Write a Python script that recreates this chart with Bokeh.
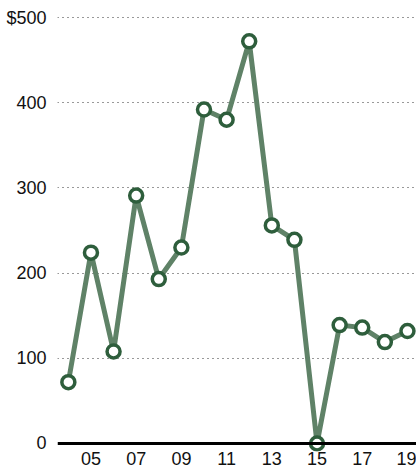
from bokeh.plotting import figure
from bokeh.models import FixedTicker, Span, Range1d, ColumnDataSource
from bokeh.embed import file_html
from bokeh.resources import INLINE

years = [2004, 2005, 2006, 2007, 2008, 2009, 2010, 2011, 2012, 2013, 2014, 2015, 2016, 2017, 2018, 2019]
values = [72, 224, 108, 291, 193, 230, 392, 380, 472, 256, 239, 0, 139, 136, 119, 132]
x_ticks = [2005, 2007, 2009, 2011, 2013, 2015, 2017, 2019]
x_tick_labels = ["05", "07", "09", "11", "13", "15", "17", "19"]
y_ticks = [0, 100, 200, 300, 400, 500]
y_tick_labels = ["0", "100", "200", "300", "400", "$500"]

src = ColumnDataSource(dict(x=years, y=values))

p = figure(frame_width=359, frame_height=442, output_backend="svg", toolbar_location=None,
           x_range=Range1d(2003.52, 2019.4), y_range=Range1d(-9.4, 509.4),
           min_border_left=57, min_border_right=0, min_border_top=9, min_border_bottom=0)
p.outline_line_color = None
p.background_fill_color = "white"
p.border_fill_color = "white"

font = "Liberation Sans"
# x axis
p.xaxis.ticker = FixedTicker(ticks=x_ticks)
p.xaxis.major_label_overrides = {t: l for t, l in zip(x_ticks, x_tick_labels)}
p.xaxis.axis_line_color = None
p.xaxis.major_tick_line_color = None
p.xaxis.minor_tick_line_color = None
p.xaxis.major_label_text_font = font
p.xaxis.major_label_text_font_size = "18px"
p.xaxis.major_label_text_color = "#111111"
p.xaxis.major_label_standoff = -6

# y axis
p.yaxis.ticker = FixedTicker(ticks=y_ticks)
p.yaxis.major_label_overrides = {t: l for t, l in zip(y_ticks, y_tick_labels)}
p.yaxis.axis_line_color = None
p.yaxis.major_tick_line_color = None
p.yaxis.minor_tick_line_color = None
p.yaxis.major_label_text_font = font
p.yaxis.major_label_text_font_size = "18px"
p.yaxis.major_label_text_color = "#111111"
p.yaxis.major_label_standoff = 5

p.xgrid.grid_line_color = None
p.ygrid.ticker = FixedTicker(ticks=[100, 200, 300, 400, 500])
p.ygrid.grid_line_color = "#333333"
p.ygrid.grid_line_dash = "1 4"
p.ygrid.grid_line_width = 1

base = Span(location=0, dimension="width", line_color="black", line_width=3)
p.add_layout(base)

p.line("x", "y", source=src, line_color="#5f8267", line_width=5)
p.scatter("x", "y", source=src, size=13, fill_color="white", line_color="#2e5e3c", line_width=3.5)

open("out.html", "w").write(file_html(p, INLINE))
